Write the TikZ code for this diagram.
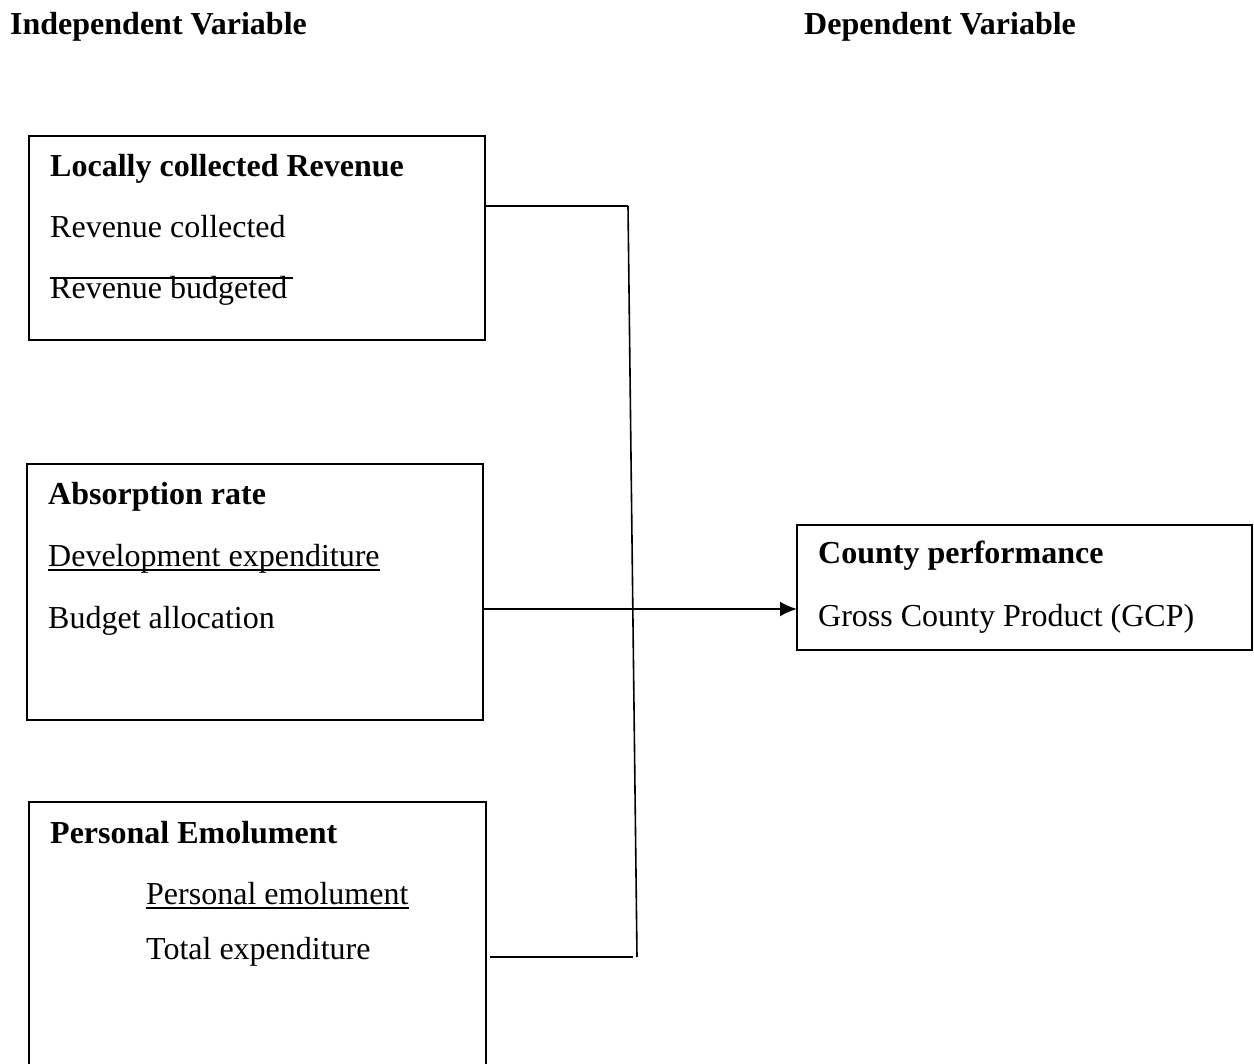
\documentclass[tikz,border=0pt]{standalone}
\usepackage{fontspec}
\setmainfont{Liberation Serif}
\usetikzlibrary{arrows.meta}
\tikzset{
  box/.style={draw, line width=2pt, anchor=north west, inner sep=0pt, outer sep=0pt},
  txt/.style={anchor=base west, inner sep=0pt, font=\fontsize{32}{38}\selectfont},
  btxt/.style={txt, font=\fontsize{32}{38}\selectfont\bfseries},
  link/.style={line width=2pt},
  vlink/.style={line width=1.6pt},
  ul/.style={line width=2pt}
}
\begin{document}
\begin{tikzpicture}[x=1pt,y=-1pt]
\useasboundingbox (0,0) rectangle (1254,1064);
\clip (0,0) rectangle (1254,1064);
% headings
\node[btxt] (h1) at (10,35) {Independent Variable};
\node[btxt] (h2) at (804,35) {Dependent Variable};
% boxes
\node[box, minimum width=456pt, minimum height=204pt] (b1) at (29,136) {};
\node[box, minimum width=456pt, minimum height=256pt] (b2) at (27,464) {};
\node[box, minimum width=457pt, minimum height=290pt] (b3) at (29,802) {};
\node[box, minimum width=455pt, minimum height=125pt] (b4) at (797,525) {};
% box 1
\node[btxt] (t11) at (50,177) {Locally collected Revenue};
\node[txt] (t12) at (50,238) {Revenue collected};
\node[txt] (t13) at (50,299) {Revenue budgeted};
\draw[ul] (t13.base west) ++(0,-21) -- ++(243,0);
% box 2
\node[btxt] (t21) at (48,505) {Absorption rate};
\node[txt] (t22) at (48,566) {Development expenditure};
\draw[ul] ([yshift=-4pt]t22.base west) -- ([yshift=-4pt]t22.base east);
\node[txt] (t23) at (48,628) {Budget allocation};
% box 3
\node[btxt] (t31) at (50,843) {Personal Emolument};
\node[txt] (t32) at (146,904) {Personal emolument};
\draw[ul] ([yshift=-4pt]t32.base west) -- ([yshift=-4pt]t32.base east);
\node[txt] (t33) at (146,959) {Total expenditure};
% box 4
\node[btxt] (t41) at (818,564) {County performance};
\node[txt] (t42) at (818,626) {Gross County Product (GCP)};
% connectors
\coordinate (j1) at (628,206);
\coordinate (j2) at (637,957);
\coordinate (a1) at (485,609);
\draw[link] (b1.east |- j1) -- (j1);
\draw[vlink] (j1) -- (j2);
\draw[link] ([xshift=4pt]b3.east |- j2) -- ([xshift=-4pt]j2);
\draw[link, -{Latex[length=17pt,width=15pt]}] (b2.east |- a1) -- (b4.west |- a1);
\end{tikzpicture}
\end{document}
